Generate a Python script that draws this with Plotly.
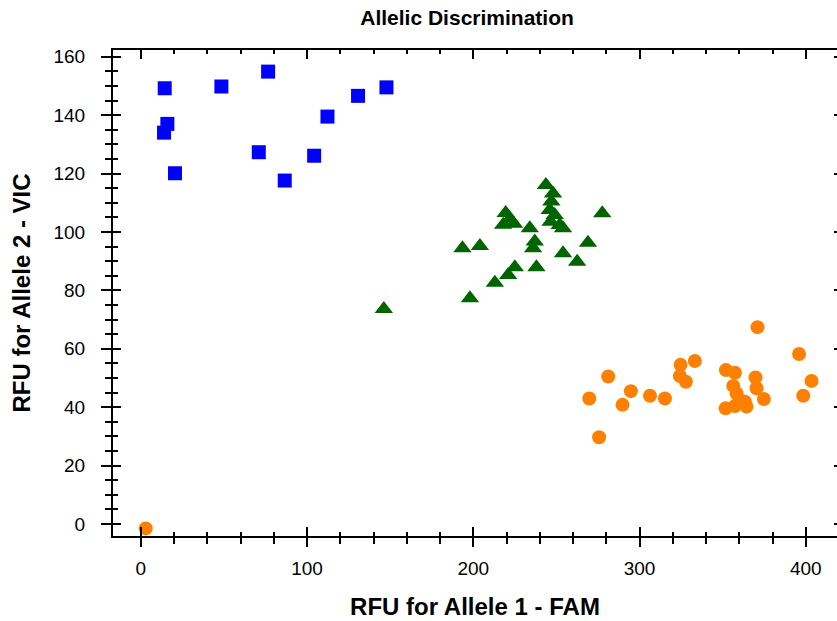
import plotly.graph_objects as go

# Blue squares (Allele 2 homozygous)
blue_x = [14.4, 48.5, 76.6, 147.8, 130.7, 112.3, 16.0, 14.0, 71.0, 104.3, 20.6, 86.6]
blue_y = [149.2, 149.8, 154.9, 149.5, 146.6, 139.5, 137.0, 134.0, 127.3, 126.1, 120.1, 117.6]

# Green triangles (heterozygous)
green_x = [146.2, 198.0, 193.5, 204.0, 213.0, 221.0, 225.0, 238.0, 219.5, 222.0, 218.0, 224.5,
           234.0, 237.0, 236.0, 243.7, 248.0, 247.0, 246.0, 249.0, 246.5, 252.0, 254.0, 254.0,
           262.5, 269.0, 277.6]
green_y = [73.6, 77.3, 94.4, 95.2, 82.6, 85.3, 87.9, 87.9, 106.5, 104.5, 102.5, 102.8,
           101.3, 96.7, 94.4, 116.1, 113.2, 110.4, 107.5, 105.8, 103.5, 102.4, 101.3, 92.7,
           89.8, 96.3, 106.4]

# Orange circles (Allele 1 homozygous) + NTC near origin
orange_x = [3.0, 269.8, 275.7, 281.2, 289.8, 294.8, 306.3, 315.3, 324.7, 324.3, 327.9, 333.3,
            352.0, 357.4, 356.4, 358.4, 360.4, 351.8, 357.4, 364.4, 363.4, 369.8, 370.4,
            374.8, 371.0, 396.0, 403.5, 398.5]
orange_y = [-1.5, 43.0, 29.7, 50.5, 40.8, 45.5, 43.9, 43.0, 54.5, 50.7, 48.7, 55.8,
            52.7, 51.8, 47.3, 44.7, 42.5, 39.6, 40.4, 40.2, 41.9, 50.2, 46.5,
            42.8, 67.4, 58.2, 49.0, 43.9]

x_ticks = [0, 100, 200, 300, 400]
y_ticks = [0, 20, 40, 60, 80, 100, 120, 140, 160]
x_range = [-16.7, 418.8]
y_range = [-4.1, 162.3]

FONT = "Arial, Liberation Sans, sans-serif"

fig = go.Figure()
fig.add_trace(go.Scatter(x=blue_x, y=blue_y, mode="markers",
                         marker=dict(symbol="square", size=14, color="#0000ff", line=dict(width=0))))
fig.add_trace(go.Scatter(x=green_x, y=green_y, mode="markers",
                         marker=dict(symbol="triangle-up", size=16, color="#006400", line=dict(width=0))))
fig.add_trace(go.Scatter(x=orange_x, y=orange_y, mode="markers",
                         marker=dict(symbol="circle", size=14, color="#ff8000", line=dict(width=0))))
# empty traces to anchor the overlay axes (tick decorations)
fig.add_trace(go.Scatter(x=[], y=[], xaxis="x2", yaxis="y2", hoverinfo="skip"))
fig.add_trace(go.Scatter(x=[], y=[], xaxis="x2", yaxis="y3", hoverinfo="skip"))

common_line = dict(showline=True, linewidth=2, linecolor="black", showgrid=False, zeroline=False)

fig.update_layout(
    width=837, height=621,
    margin=dict(l=113, r=0, t=50, b=85),
    paper_bgcolor="white", plot_bgcolor="white",
    showlegend=False,
    font=dict(family=FONT, color="black"),
    title=dict(text="<b>Allelic Discrimination</b>", x=0.558, xanchor="center",
               y=0.972, yanchor="middle", font=dict(size=21, family=FONT, color="black")),
    xaxis=dict(range=x_range, tickvals=x_ticks, ticktext=[str(v) for v in x_ticks],
               ticks="outside", ticklen=9, tickwidth=2, tickcolor="black",
               minor=dict(dtick=20, tick0=0, ticks="outside", ticklen=6, tickwidth=2, tickcolor="black"),
               tickfont=dict(size=19, family=FONT, color="black"), ticklabelstandoff=5,
               title=dict(text="<b>RFU for Allele 1 - FAM</b>", font=dict(size=24, family=FONT, color="black"),
                          standoff=20),
               **common_line),
    yaxis=dict(range=y_range, tickvals=y_ticks, ticktext=[str(v) for v in y_ticks],
               ticks="outside", ticklen=10, tickwidth=2, tickcolor="black",
               minor=dict(dtick=5, tick0=0, ticks="outside", ticklen=6, tickwidth=2, tickcolor="black"),
               tickfont=dict(size=19, family=FONT, color="black"), ticklabelstandoff=12,
               title=dict(text="<b>RFU for Allele 2 - VIC</b>", font=dict(size=24, family=FONT, color="black"),
                          standoff=16),
               **common_line),
    xaxis2=dict(overlaying="x", anchor="y", side="bottom", range=x_range, tickvals=x_ticks,
                showticklabels=False, ticks="inside", ticklen=9, tickwidth=2, tickcolor="black",
                minor=dict(dtick=20, tick0=0, ticks="inside", ticklen=4, tickwidth=2, tickcolor="black"),
                mirror="ticks", **common_line),
    yaxis2=dict(overlaying="y", anchor="x", side="left", range=y_range, tickvals=y_ticks,
                showticklabels=False, ticks="inside", ticklen=8, tickwidth=2, tickcolor="black",
                minor=dict(dtick=5, tick0=0, ticks="inside", ticklen=5, tickwidth=2, tickcolor="black"),
                **common_line),
    yaxis3=dict(overlaying="y", anchor="x", side="right", range=y_range, tickvals=y_ticks,
                showticklabels=False, ticks="inside", ticklen=3, tickwidth=2, tickcolor="black",
                showline=False, showgrid=False, zeroline=False),
)

fig.write_html("out.html")
